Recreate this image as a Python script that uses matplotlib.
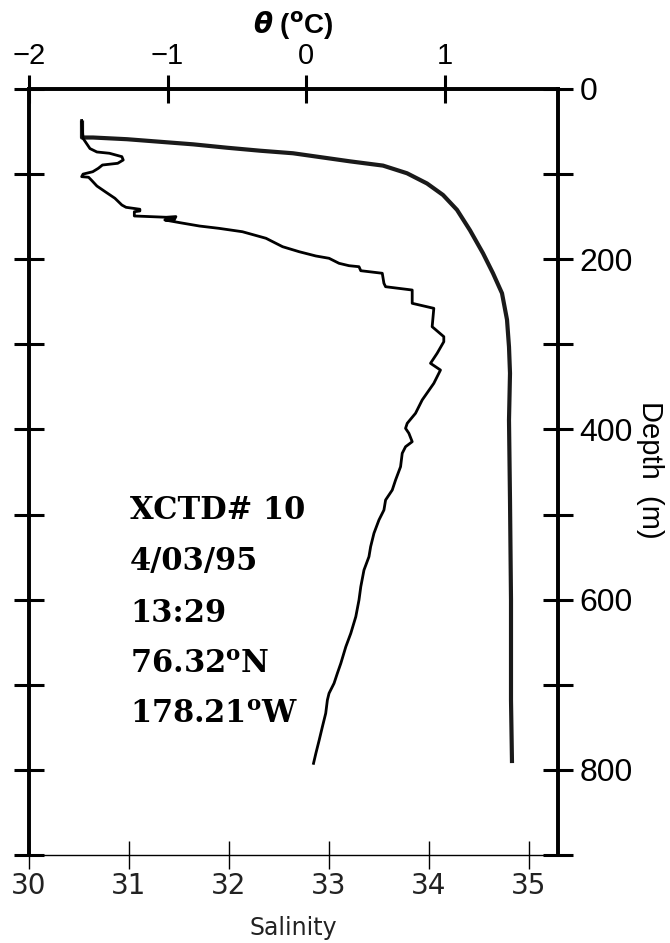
import matplotlib
matplotlib.use("Agg")
import matplotlib.pyplot as plt
from matplotlib.ticker import FixedLocator, FuncFormatter

# ---------------- data ----------------
sal_depth = [37, 57, 57, 59, 62, 65, 69, 72.5, 75.5, 80, 85, 90, 99, 111, 124.5,
             142, 166, 193, 216.5, 240, 271, 303, 334, 389, 483, 600, 718, 792]
salinity = [30.53, 30.53, 30.64, 30.98, 31.31, 31.64, 31.98, 32.31, 32.64, 32.91,
            33.21, 33.54, 33.78, 33.98, 34.14, 34.28, 34.41, 34.54, 34.64, 34.73,
            34.78, 34.80, 34.81, 34.80, 34.81, 34.82, 34.82, 34.83]

theta_depth = [37, 58, 70, 74, 75.5, 79.5, 83.4, 87.3, 89.3, 93.2, 97.2, 100, 103,
               103.7, 107, 114, 120.7, 128.4, 136.3, 139, 141.3, 143.3, 144.2, 149.2,
               150.7, 149.9, 153.1, 153.9, 157.1, 161, 163.7, 167.7, 175.4, 185.3,
               191.2, 196.2, 198.9, 204.8, 207.6, 208.8, 213.5, 216.5, 228.3, 232.3,
               236.2, 251.8, 257.7, 279.3, 291, 296.9, 310.5, 322.3, 330.2, 345.8,
               365.4, 381, 392.8, 398.7, 404.5, 414.4, 420.3, 428, 443.8, 459.4,
               471.2, 482.9, 494.7, 506.4, 522, 537.8, 549.5, 565.2, 584.8, 600.4,
               620, 639.5, 655.3, 674.8, 686.5, 698.3, 710, 717.9, 733.5, 749.3,
               764.9, 780.5, 792.3]
theta = [-1.62, -1.61, -1.56, -1.51, -1.42, -1.33, -1.32, -1.36, -1.47, -1.50, -1.54,
         -1.61, -1.62, -1.57, -1.55, -1.51, -1.45, -1.38, -1.33, -1.30, -1.20, -1.20,
         -1.24, -1.24, -1.01, -0.94, -0.95, -1.02, -0.91, -0.77, -0.63, -0.46, -0.29,
         -0.17, -0.05, 0.07, 0.165, 0.237, 0.309, 0.381, 0.394, 0.549, 0.561, 0.573,
         0.765, 0.765, 0.921, 0.909, 0.993, 0.993, 0.945, 0.897, 0.969, 0.921, 0.837,
         0.789, 0.729, 0.717, 0.741, 0.765, 0.717, 0.693, 0.681, 0.645, 0.621, 0.573,
         0.561, 0.525, 0.489, 0.465, 0.453, 0.417, 0.394, 0.381, 0.358, 0.322, 0.286,
         0.250, 0.225, 0.201, 0.165, 0.153, 0.141, 0.117, 0.094, 0.070, 0.053]

sal_ticks = [30, 31, 32, 33, 34, 35]
theta_ticks = [-2, -1, 0, 1]
depth_ticks = [0, 100, 200, 300, 400, 500, 600, 700, 800, 900]
depth_labels = ["0", "", "200", "", "400", "", "600", "", "800", ""]
info_lines = ["XCTD# 10", "4/03/95", "13:29",
              r"76.32$^{\mathbf{o}}$N", r"178.21$^{\mathbf{o}}$W"]

# ---------------- figure ----------------
W, H = 670, 943
fig = plt.figure(figsize=(W / 100, H / 100), dpi=100)
L, R, T, B = 29, 558, 89, 855
ax = fig.add_axes([L / W, 1 - B / H, (R - L) / W, (B - T) / H])

ax.plot(salinity, sal_depth, color="#1a1a1a", lw=3.0, solid_capstyle="butt")
ax.set_xlim(30, 35.29)
ax.set_ylim(900, 0)

ax2 = ax.twiny()
ax2.plot(theta, theta_depth, color="black", lw=2.0)
ax2.set_xlim(-2, 1.817)

# spines
for a in (ax, ax2):
    for s in ("left", "right", "top"):
        a.spines[s].set_linewidth(2.6)
    a.spines["bottom"].set_linewidth(1.0)
ax2.spines["bottom"].set_visible(False)

# bottom (salinity) ticks
ax.set_xticks(sal_ticks)
ax.set_xticklabels([str(t) for t in sal_ticks], fontsize=20,
                   family="DejaVu Sans", color="#222222")
ax.tick_params(axis="x", direction="inout", length=20, width=1.0, pad=2)

# depth ticks
ax.yaxis.set_major_locator(FixedLocator(depth_ticks))
ax.yaxis.set_major_formatter(FuncFormatter(
    lambda v, p: depth_labels[depth_ticks.index(int(round(v)))] if int(round(v)) in depth_ticks else ""))
ax.tick_params(axis="y", left=True, right=True, labelleft=False, labelright=True,
               direction="inout", length=21, width=2.2, pad=5, labelsize=23)
for lab in ax.get_yticklabels():
    lab.set_family("Liberation Sans")

# top theta ticks
ax2.set_xticks(theta_ticks)
ax2.set_xticklabels(["\u2212" + str(-t) if t < 0 else str(t) for t in theta_ticks],
                    fontsize=21, family="Liberation Sans")
ax2.tick_params(axis="x", direction="inout", length=20, width=2.2, pad=4)

# axis titles
fig.text(293 / W, 1 - 26 / H, r"$\boldsymbol{\theta}$ ($^{\mathbf{o}}$C)",
         ha="center", va="center", fontsize=20, fontweight="bold",
         family="Liberation Sans", math_fontfamily="dejavusans")
fig.text(293 / W, 1 - 928 / H, "Salinity", ha="center", va="center",
         fontsize=17, family="DejaVu Sans", color="#222222")
fig.text(650 / W, 1 - 470 / H, "Depth  (m)", ha="center", va="center",
         rotation=270, fontsize=21, family="Liberation Sans")

# station info text
baselines = [519, 570, 622, 673, 723]
for line, yb in zip(info_lines, baselines):
    ax.text((130 - L) / (R - L), (B - yb) / (B - T), line, transform=ax.transAxes,
            ha="left", va="baseline", fontsize=22, fontweight="bold",
            family="DejaVu Serif", math_fontfamily="dejavuserif")

fig.savefig("out.png", dpi=100, facecolor="white")
